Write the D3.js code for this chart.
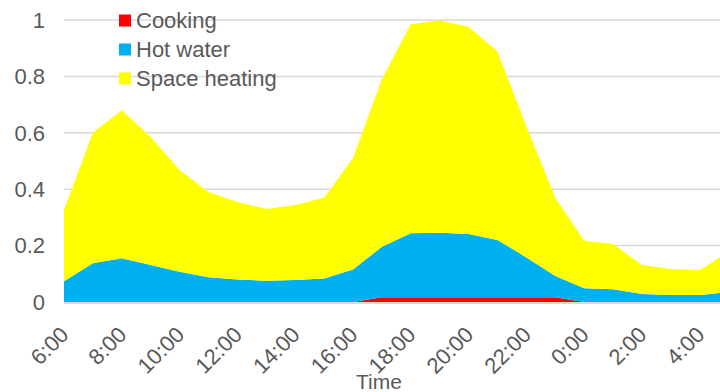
<!DOCTYPE html>
<html>
<head>
<meta charset="utf-8">
<script src="https://cdn.jsdelivr.net/npm/d3@7"></script>
<style>
  body { margin: 0; background: #fff; }
  text { font-family: "Liberation Sans", Arial, sans-serif; fill: #595959; }
</style>
</head>
<body>
<svg id="chart"></svg>
<script>
// Hourly labels, 6:00 through 5:00 next day
const hours = ["6:00", "7:00", "8:00", "9:00", "10:00", "11:00", "12:00", "13:00",
    "14:00", "15:00", "16:00", "17:00", "18:00", "19:00", "20:00", "21:00",
    "22:00", "23:00", "0:00", "1:00", "2:00", "3:00", "4:00", "5:00"];
const tickHours = ["6:00", "8:00", "10:00", "12:00", "14:00", "16:00", "18:00",
    "20:00", "22:00", "0:00", "2:00", "4:00"];

// Series values (stacked)
const cooking = [0, 0, 0, 0, 0, 0, 0, 0, 0, 0, 0, 0.017, 0.017, 0.017, 0.017, 0.017,
    0.017, 0.017, 0, 0, 0, 0, 0, 0];
const hotWater = [0.074, 0.137, 0.155, 0.131, 0.107, 0.088, 0.08, 0.075, 0.078, 0.083,
    0.115, 0.179, 0.227, 0.229, 0.224, 0.203, 0.141, 0.075, 0.049, 0.045, 0.028,
    0.025, 0.025, 0.035];
const spaceHeating = [0.252, 0.463, 0.525, 0.454, 0.361, 0.302, 0.275, 0.255, 0.266,
    0.287, 0.395, 0.594, 0.741, 0.752, 0.735, 0.668, 0.464, 0.278, 0.168, 0.161,
    0.103, 0.092, 0.088, 0.143];

const seriesNames = ["Cooking", "Hot water", "Space heating"];
const yTicks = [0, 0.2, 0.4, 0.6, 0.8, 1];

const width = 720;
const height = 392;

const svg = d3.select("#chart")
    .attr("width", width)
    .attr("height", height);

const color = d3.scaleOrdinal()
    .domain(seriesNames)
    .range(["#ff0000", "#00b0f0", "#ffff00"]);

// Build table for the stack
const table = hours.map((h, i) => ({
    hour: h,
    "Cooking": cooking[i],
    "Hot water": hotWater[i],
    "Space heating": spaceHeating[i]
}));

const stacked = d3.stack().keys(seriesNames)(table);

// Last point sits just beyond the right edge, as in the source
const x = d3.scalePoint()
    .domain(hours)
    .range([64, 64 + 23 * 28.9]);

const y = d3.scaleLinear()
    .domain([0, 1])
    .range([302, 20]);

// Gridlines
svg.append("g")
    .selectAll("line")
    .data(yTicks.filter(d => d > 0))
    .enter().append("line")
    .attr("x1", 64)
    .attr("x2", width)
    .attr("y1", d => y(d))
    .attr("y2", d => y(d))
    .attr("stroke", "#d9d9d9")
    .attr("stroke-width", 1.5);

// Areas
const area = d3.area()
    .x(d => x(d.data.hour))
    .y0(d => y(d[0]))
    .y1(d => y(d[1]));

svg.append("g")
    .selectAll("path")
    .data(stacked)
    .enter().append("path")
    .attr("d", area)
    .attr("fill", d => color(d.key));

// Baseline
svg.append("line")
    .attr("x1", 64)
    .attr("x2", width)
    .attr("y1", y(0) + 1)
    .attr("y2", y(0) + 1)
    .attr("stroke", "#d9d9d9")
    .attr("stroke-width", 2);

// Y tick labels
svg.append("g")
    .selectAll("text")
    .data(yTicks)
    .enter().append("text")
    .attr("x", 45)
    .attr("y", d => y(d))
    .attr("dy", "0.35em")
    .attr("text-anchor", "end")
    .style("font-size", "22px")
    .text(d => d3.format("~g")(d));

// X tick labels, rotated
svg.append("g")
    .selectAll("text")
    .data(tickHours)
    .enter().append("text")
    .attr("transform", d => `translate(${x(d) + 6},${336}) rotate(-45)`)
    .attr("text-anchor", "end")
    .style("font-size", "22px")
    .text(d => d);

// Axis title
svg.append("text")
    .attr("x", 379)
    .attr("y", 389)
    .attr("text-anchor", "middle")
    .style("font-size", "21px")
    .text("Time");

// Legend
const legend = svg.append("g");
seriesNames.forEach((name, i) => {
    const cy = 20.5 + i * 29;
    legend.append("rect")
        .attr("x", 119)
        .attr("y", cy - 6)
        .attr("width", 12)
        .attr("height", 12)
        .attr("fill", color(name));
    legend.append("text")
        .attr("x", 136)
        .attr("y", cy)
        .attr("dy", "0.35em")
        .style("font-size", "22px")
        .text(name);
});
</script>
</body>
</html>
